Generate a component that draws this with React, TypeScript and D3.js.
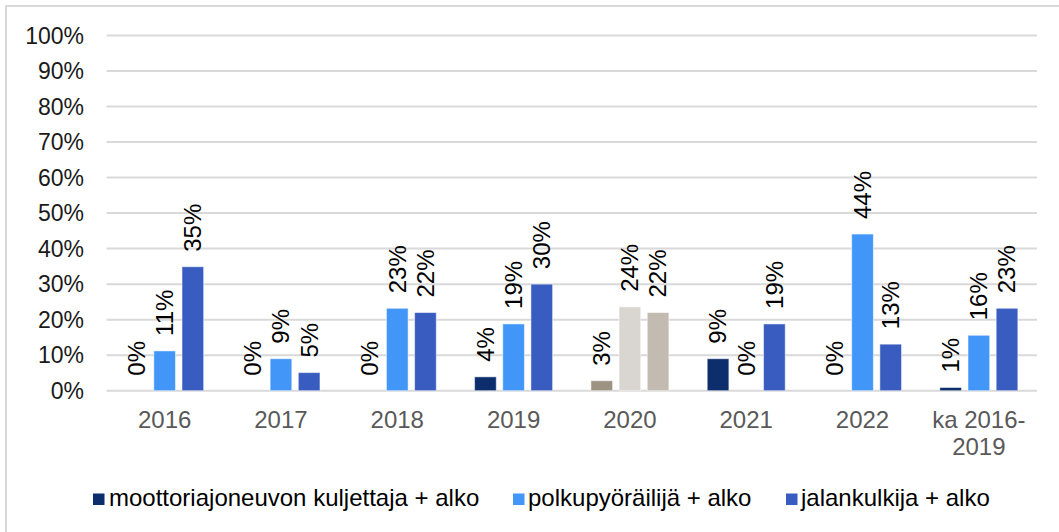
import React from "react";
import * as d3 from "d3";

const categories: string[][] = [
  ["2016"], ["2017"], ["2018"], ["2019"], ["2020"], ["2021"], ["2022"], ["ka 2016-", "2019"],
];
const seriesNames = [
  "moottoriajoneuvon kuljettaja + alko",
  "polkupyöräilijä + alko",
  "jalankulkija + alko",
];
const motorValues = [0, 0, 0, 3.9, 2.8, 9.0, 0, 0.9];
const bikeValues = [11.2, 9.0, 23.2, 18.8, 23.6, 0, 44.1, 15.6];
const walkValues = [34.9, 5.1, 22.0, 30.0, 22.0, 18.8, 13.1, 23.2];
const yTicks = [0, 10, 20, 30, 40, 50, 60, 70, 80, 90, 100];

const seriesColors = ["#0C2E6C", "#4196F8", "#385CBF"];
const greyColors = ["#9C9383", "#D9D6D1", "#C3BAB1"];
const greyIndex = 4;

export default function App() {
  const W = 1059;
  const H = 532;
  const left = 106.5;
  const right = 1037;
  const yTop = 35.5;
  const yBottom = 390.7;

  const x = d3.scaleBand<number>().domain(d3.range(categories.length)).range([left, right]).padding(0);
  const y = d3.scaleLinear().domain([0, 100]).range([yBottom, yTop]);
  const groupW = 78;
  const inner = d3
    .scaleBand<number>()
    .domain([0, 1, 2])
    .range([(x.bandwidth() - groupW) / 2, (x.bandwidth() + groupW) / 2])
    .paddingInner(6 / 26)
    .paddingOuter(0);

  const values = [motorValues, bikeValues, walkValues];
  const font = "'Liberation Sans', Arial, sans-serif";

  const legendItems = [
    { x: 93, tx: 109 },
    { x: 513, tx: 528 },
    { x: 786, tx: 801 },
  ];

  return (
    <svg width={W} height={H} style={{ position: "absolute", left: 0, top: 0 }} fontFamily={font}>
      <rect x={0} y={0} width={W} height={H} fill="#fff" />
      <rect x={6} y={6} width={W + 10} height={H + 10} fill="none" stroke="#D9D9D9" strokeWidth={2} />
      {yTicks.map((t) => (
        <g key={t}>
          <line x1={left} x2={right} y1={y(t)} y2={y(t)} stroke="#D9D9D9" strokeWidth={2} />
          <text x={84} y={y(t)} dy="0.35em" textAnchor="end" fontSize={23} fill="#1a1a1a">
            {t}%
          </text>
        </g>
      ))}
      {categories.map((c, i) => (
        <g key={i} transform={`translate(${x(i)},0)`}>
          {values.map((vals, s) => {
            const v = vals[i];
            const bx = inner(s)!;
            const bw = inner.bandwidth();
            const color = i === greyIndex ? greyColors[s] : seriesColors[s];
            const cx = bx + bw / 2;
            return (
              <g key={s}>
                {v > 0 && (
                  <rect
                    x={bx}
                    y={y(v)}
                    width={bw}
                    height={yBottom - y(v)}
                    fill={color}
                    stroke="#ffffff"
                    strokeOpacity={0.5}
                    strokeWidth={1}
                  />
                )}
                <text
                  transform={`translate(${cx},${y(v) - 15}) rotate(-90)`}
                  dy="0.35em"
                  textAnchor="start"
                  fontSize={24}
                  fill="#000"
                >
                  {Math.round(v)}%
                </text>
              </g>
            );
          })}
          {c.map((line, li) => (
            <text
              key={li}
              x={x.bandwidth() / 2}
              y={427.5 + li * 27.5}
              textAnchor="middle"
              fontSize={24}
              fill="#595959"
            >
              {line}
            </text>
          ))}
        </g>
      ))}
      {seriesNames.map((n, i) => (
        <g key={n}>
          <rect x={legendItems[i].x} y={493.5} width={11.5} height={11.5} fill={seriesColors[i]} />
          <text x={legendItems[i].tx} y={506} fontSize={24} fill="#000">
            {n}
          </text>
        </g>
      ))}
    </svg>
  );
}
